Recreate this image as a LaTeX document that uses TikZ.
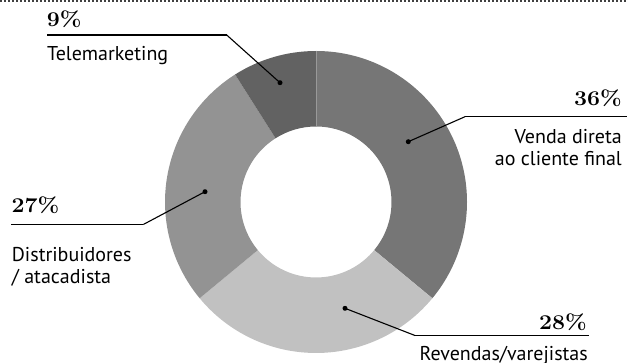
\documentclass[tikz,border=0pt]{standalone}
\usepackage{fontspec}
\usepackage{graphicx}
\newfontfamily\labelfont{PT Sans}
\definecolor{segA}{HTML}{767676}
\definecolor{segB}{HTML}{C1C1C1}
\definecolor{segC}{HTML}{939393}
\definecolor{segD}{HTML}{626262}
\newcommand{\pct}[1]{\scalebox{1.1}[1]{\bfseries\oldstylenums{#1}\%}}
\tikzset{
  pctlabel/.style={inner sep=0pt, font=\fontsize{21}{21}\selectfont},
  catlabel/.style={inner sep=0pt, font=\labelfont\fontsize{20}{22}\selectfont},
  rule/.style={line width=1.6pt, black},
  leader/.style={line width=1.1pt, black},
  dotmark/.style={circle, fill=black, inner sep=0pt, minimum size=5pt},
}
\begin{document}
\begin{tikzpicture}[x=1pt, y=-1pt]
\useasboundingbox (0,0) rectangle (627,363);
% top dotted border
\draw[line width=2pt, dash pattern=on 2pt off 2pt, black!75] (0,1.5) -- (627,1.5);
% donut
\begin{scope}[shift={(316,202)}, yscale=-1]
  \def\R{151}\def\r{75.5}
  \fill[segA] (90:\R) arc[start angle=90, end angle=-39.6, radius=\R] -- (-39.6:\r) arc[start angle=-39.6, end angle=90, radius=\r] -- cycle;
  \fill[segB] (-39.6:\R) arc[start angle=-39.6, end angle=-140.4, radius=\R] -- (-140.4:\r) arc[start angle=-140.4, end angle=-39.6, radius=\r] -- cycle;
  \fill[segC] (-140.4:\R) arc[start angle=-140.4, end angle=-237.6, radius=\R] -- (-237.6:\r) arc[start angle=-237.6, end angle=-140.4, radius=\r] -- cycle;
  \fill[segD] (122.4:\R) arc[start angle=122.4, end angle=90, radius=\R] -- (90:\r) arc[start angle=90, end angle=122.4, radius=\r] -- cycle;
  \draw[line width=0.8pt, black!40] (90:\r) -- (90:\R);
\end{scope}
% dots
\node[dotmark] (d9) at (280,82.7) {};
\node[dotmark] (d36) at (408.3,141.7) {};
\node[dotmark] (d27) at (205,191.7) {};
\node[dotmark] (d28) at (345,308.3) {};
% rule ends and elbows
\coordinate (r9a) at (46.7,35);   \coordinate (r9b) at (226.7,35);
\coordinate (r36a) at (627,116.7); \coordinate (r36b) at (465,116.7);
\coordinate (r27a) at (10.5,224.5); \coordinate (r27b) at (143.3,224.5);
\coordinate (r28a) at (588.5,335.5); \coordinate (r28b) at (415,335.5);
\draw[leader] (d9.center) -- (r9b);  \draw[rule] (r9b) -- (r9a);
\draw[leader] (d36.center) -- (r36b); \draw[rule] (r36b) -- (r36a);
\draw[leader] (d27.center) -- (r27b); \draw[rule] (r27b) -- (r27a);
\draw[leader] (d28.center) -- (r28b); \draw[rule] (r28b) -- (r28a);
% percentages
\node[pctlabel, anchor=base west] (p9) at (46.7,27) {\pct{9}};
\node[pctlabel, anchor=base east] (p36) at (622,106) {\pct{36}};
\node[pctlabel, anchor=base west] (p27) at (11.5,213) {\pct{27}};
\node[pctlabel, anchor=base east] (p28) at (587,329.5) {\pct{28}};
% categories
\node[catlabel, anchor=base west] (c9) at (47,60.7) {Telemarketing};
\node[catlabel, anchor=base east, align=right] (c36) at (622,166) {Venda direta\\ao cliente final};
\node[catlabel, anchor=base west, align=left] (c27) at (11.7,283.3) {Distribuidores\\/ atacadista};
\node[catlabel, anchor=base east] (c28) at (588,361) {Revendas/varejistas};
\end{tikzpicture}
\end{document}
